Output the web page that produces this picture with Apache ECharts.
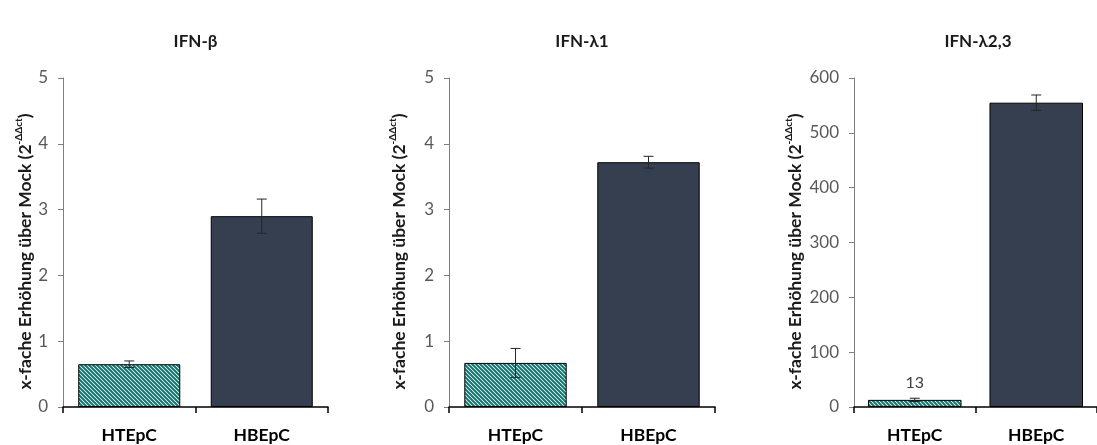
<!DOCTYPE html>
<html>
<head>
<meta charset="utf-8">
<script src="https://cdn.jsdelivr.net/npm/echarts@6/dist/echarts.min.js"></script>
<style>
  html, body { margin: 0; padding: 0; background: #fff; }
  #chart { width: 1097px; height: 445px; }
</style>
</head>
<body>
<div id="chart"></div>
<script>
// Cell types on the x axis
const categories = ['HTEpC', 'HBEpC'];
// Panel titles
const panelTitles = ['IFN-β', 'IFN-λ1', 'IFN-λ2,3'];

// Fold induction over mock (2^-ΔΔct) and error bar half-widths
const ifnBeta = [0.65, 2.9];
const ifnBetaErr = [0.05, 0.26];
const ifnLambda1 = [0.67, 3.72];
const ifnLambda1Err = [0.22, 0.09];
const ifnLambda23 = [13, 555];
const ifnLambda23Err = [3, 14];

// Y axis ranges per panel
const yMax = [5, 5, 600];
const yStep = [1, 1, 100];

const panelValues = [ifnBeta, ifnLambda1, ifnLambda23];
const panelErrors = [ifnBetaErr, ifnLambda1Err, ifnLambda23Err];

// Diagonal hatch used for HTEpC bars
function hatch() {
  const c = document.createElement('canvas');
  c.width = 4; c.height = 4;
  const g = c.getContext('2d');
  g.fillStyle = '#ffffff';
  g.fillRect(0, 0, 4, 4);
  g.strokeStyle = '#137570';
  g.lineWidth = 2;
  g.beginPath();
  g.moveTo(-1, -1); g.lineTo(5, 5);
  g.moveTo(-1, 3); g.lineTo(1, 5);
  g.moveTo(3, -1); g.lineTo(5, 1);
  g.stroke();
  return c;
}
const hatchFill = { image: hatch(), repeat: 'repeat' };
const solidFill = '#353f50';

const grids = [
  { left: 63, top: 78, width: 265, height: 329 },
  { left: 449, top: 78, width: 266, height: 329 },
  { left: 854, top: 78, width: 248, height: 329 }
];
const nameGaps = [26, 39, 48];

const fontFamily = 'Lato, "Open Sans", sans-serif';

const option = {
  animation: false,
  backgroundColor: '#ffffff',
  // Panel headings, centred over each plot area
  graphic: panelTitles.map((t, i) => ({
    type: 'text',
    x: grids[i].left + grids[i].width / 2,
    y: 42,
    style: {
      text: t,
      fontFamily,
      fontSize: 17,
      fontWeight: 'bold',
      fill: '#1a1a1a',
      align: 'center',
      verticalAlign: 'middle'
    }
  })),
  grid: grids,
  xAxis: grids.map((g, i) => ({
    type: 'category',
    gridIndex: i,
    data: categories,
    axisLine: { lineStyle: { color: '#000000', width: 1.5 } },
    axisTick: { show: true, length: 6, lineStyle: { color: '#000000', width: 1.5 } },
    axisLabel: { margin: 19, fontFamily, fontSize: 17.5, fontWeight: 'bold', color: '#000000' }
  })),
  yAxis: grids.map((g, i) => ({
    type: 'value',
    gridIndex: i,
    min: 0,
    max: yMax[i],
    interval: yStep[i],
    splitLine: { show: false },
    axisLine: { show: true, lineStyle: { color: '#7f7f7f', width: 1 } },
    axisTick: { show: true, length: 5, lineStyle: { color: '#7f7f7f' } },
    axisLabel: { margin: 15, fontFamily, fontSize: 17, color: '#595959' },
    name: '{b|x-fache Erhöhung über Mock (2}{s|-ΔΔct}{b|)}',
    nameLocation: 'middle',
    nameRotate: 90,
    nameGap: nameGaps[i],
    nameTextStyle: {
      padding: [0, 18, 0, 0],
      rich: {
        b: { fontFamily, fontSize: 17.5, fontWeight: 'bold', color: '#1a1a1a', lineHeight: 22 },
        s: { fontFamily, fontSize: 10, fontWeight: 'bold', color: '#1a1a1a', lineHeight: 22, verticalAlign: 'top', padding: [0, 0, 8, 0] }
      }
    }
  })),
  series: []
};

panelValues.forEach((vals, i) => {
  option.series.push({
    type: 'bar',
    xAxisIndex: i,
    yAxisIndex: i,
    barWidth: '77%',
    data: vals.map((v, k) => {
      const item = {
        value: v,
        itemStyle: { color: k === 0 ? hatchFill : solidFill, borderColor: '#000000', borderWidth: 1 }
      };
      if (i === 2 && k === 0) {
        item.label = { show: true, position: 'top', distance: 9, fontFamily, fontSize: 16, color: '#404040', formatter: String(v) };
      }
      return item;
    })
  });
  const errs = panelErrors[i];
  option.series.push({
    type: 'custom',
    xAxisIndex: i,
    yAxisIndex: i,
    z: 5,
    data: vals.map((v, k) => [k, v - errs[k], v + errs[k]]),
    renderItem: function (params, api) {
      const x = api.value(0);
      const lo = api.coord([x, api.value(1)]);
      const hi = api.coord([x, api.value(2)]);
      const cap = 5;
      const style = { stroke: '#262626', lineWidth: 1 };
      return {
        type: 'group',
        children: [
          { type: 'line', shape: { x1: hi[0], y1: hi[1], x2: lo[0], y2: lo[1] }, style },
          { type: 'line', shape: { x1: hi[0] - cap, y1: hi[1], x2: hi[0] + cap, y2: hi[1] }, style },
          { type: 'line', shape: { x1: lo[0] - cap, y1: lo[1], x2: lo[0] + cap, y2: lo[1] }, style }
        ]
      };
    }
  });
});

const chart = echarts.init(document.getElementById('chart'), null, { renderer: 'canvas' });
chart.setOption(option);
</script>
</body>
</html>
